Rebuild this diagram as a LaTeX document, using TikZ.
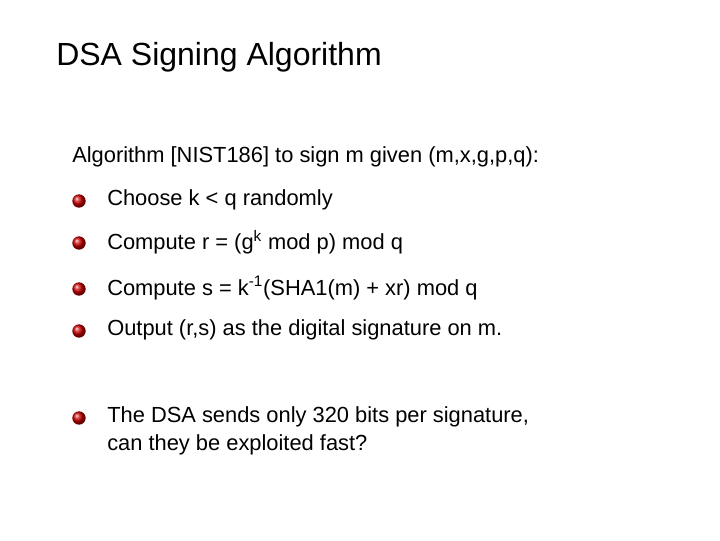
\documentclass[tikz,border=0pt]{standalone}
\usepackage{fontspec}
\setmainfont{Liberation Sans}
\begin{document}
\begin{tikzpicture}[x=0.75pt,y=-0.75pt,
  txt/.style={anchor=west,inner sep=0pt,font=\fontsize{16.4}{21}\selectfont,align=left},
  ball/.style={circle,inner sep=0pt,minimum size=10pt,shading=ball,ball color=red!80!black}]
\useasboundingbox (0,0) rectangle (720,540);
\node[anchor=west,inner sep=0pt,font=\fontsize{24}{28}\selectfont] (title) at (56,57) {DSA Signing Algorithm};
\node[txt] (intro) at (72,157) {Algorithm [NIST186] to sign m given (m,x,g,p,q):};
\node[ball] (b1) at (79,201) {};
\node[txt] (t1) at (107,200) {Choose k < q randomly};
\node[ball] (b2) at (79,243) {};
\node[txt] (t2) at (107,242) {Compute r = (g\textsuperscript{k} mod p) mod q};
\node[ball] (b3) at (79,289) {};
\node[txt] (t3) at (107,288) {Compute s = k\textsuperscript{-1}(SHA1(m) + xr) mod q};
\node[ball] (b4) at (79,331) {};
\node[txt] (t4) at (107,330) {Output (r,s) as the digital signature on m.};
\node[ball] (b5) at (79,418) {};
\node[txt,anchor=north west] (t5) at (107,406) {The DSA sends only 320 bits per signature,\\can they be exploited fast?};
\end{tikzpicture}
\end{document}
